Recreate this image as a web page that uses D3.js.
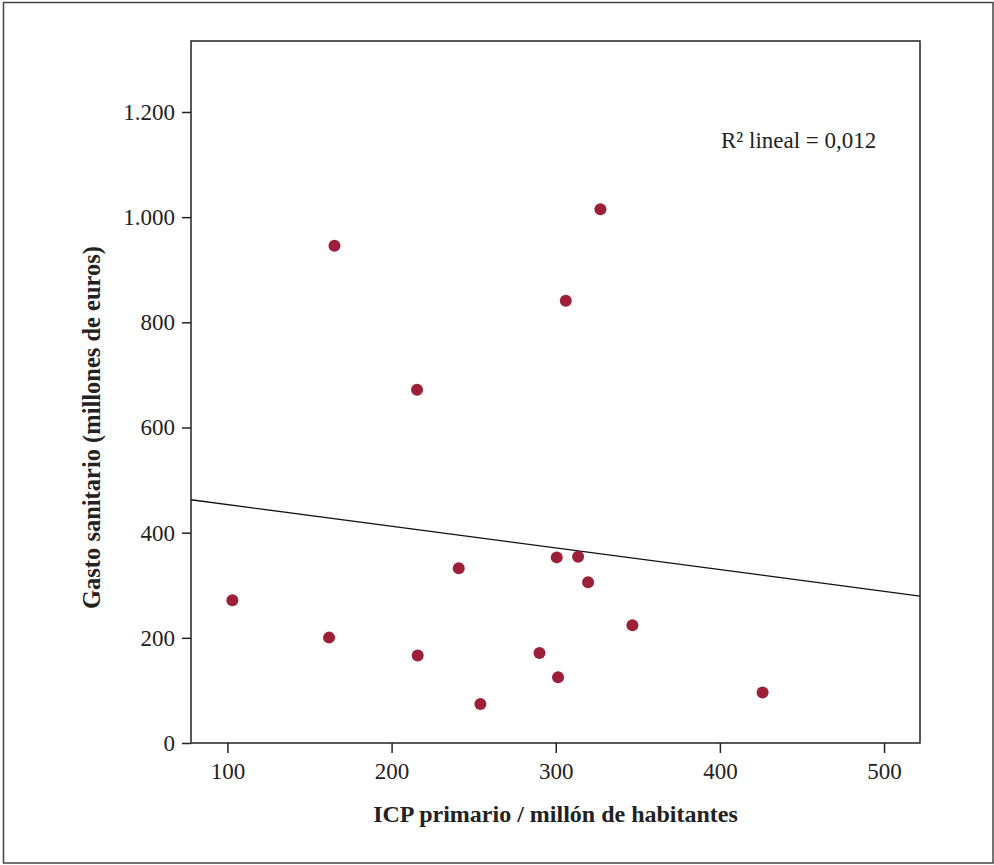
<!DOCTYPE html>
<html>
<head>
<meta charset="utf-8">
<script src="https://cdn.jsdelivr.net/npm/d3@7"></script>
<style>
  body { margin: 0; background: #fff; }
  svg { display: block; font-family: "Liberation Serif", "Times New Roman", serif; }
</style>
</head>
<body>
<div class="scatter-container"></div>
<script>
// ICP primario por millón de habitantes (eje x)
var icpValues = [103.0, 161.9, 165.2, 215.5, 215.9, 240.9, 254.1, 290.1,
                 300.6, 301.4, 306.1, 313.6, 319.7, 327.2, 346.7, 426.0];
// gasto sanitario, millones de euros (eje y)
var gastoValues = [271.3, 200.4, 945.6, 671.9, 166.2, 332.1, 74.1, 171.1,
                   353.0, 124.9, 841.0, 354.4, 305.5, 1015.2, 223.8, 96.1];
var xTicks = [100, 200, 300, 400, 500];
var yTicks = [0, 200, 400, 600, 800, 1000, 1200];
var xDomain = [77.8, 521.9];
var yDomain = [0, 1335];

var width = 994, height = 865;
var margin = {top: 41, right: 74, bottom: 122, left: 191};
var textColor = "#222";
var dotColor = "#9d1f38";

var svg = d3.select(".scatter-container").append("svg")
    .attr("width", width)
    .attr("height", height);

// marco exterior
svg.append("rect")
    .attr("x", 3.5).attr("y", 2.5)
    .attr("width", 989.5).attr("height", 860.5)
    .attr("fill", "none")
    .attr("stroke", "#444")
    .attr("stroke-width", 1.5);

var xScale = d3.scaleLinear()
    .domain(xDomain)
    .range([margin.left, width - margin.right]);
var yScale = d3.scaleLinear()
    .domain(yDomain)
    .range([height - margin.bottom, margin.top]);

// separador de miles "."
var es = d3.formatLocale({decimal: ",", thousands: ".", grouping: [3], currency: ["", " €"]});
var fmt = es.format(",d");

var xAxis = d3.axisBottom(xScale).tickValues(xTicks).tickSize(10).tickSizeOuter(0).tickPadding(6).tickFormat(fmt);
var yAxis = d3.axisLeft(yScale).tickValues(yTicks).tickSize(9).tickSizeOuter(0).tickPadding(7).tickFormat(fmt);

var gx = svg.append("g")
    .attr("class", "x-axis")
    .attr("transform", "translate(0," + (height - margin.bottom) + ")")
    .call(xAxis);
var gy = svg.append("g")
    .attr("class", "y-axis")
    .attr("transform", "translate(" + margin.left + ",0)")
    .call(yAxis);

[gx, gy].forEach(function(g){
    g.select(".domain").remove();
    g.selectAll("line").attr("stroke", textColor).attr("stroke-width", 1.5);
    g.selectAll("text")
        .attr("fill", textColor)
        .attr("font-size", 23)
        .attr("font-family", "Liberation Serif");
});
gx.selectAll("text").attr("dy", "0.85em");

// recta de regresión (mínimos cuadrados)
var mx = d3.mean(icpValues), my = d3.mean(gastoValues);
var sxy = d3.sum(icpValues, function(d, i){ return (d - mx) * (gastoValues[i] - my); });
var sxx = d3.sum(icpValues, function(d){ return (d - mx) * (d - mx); });
var slope = sxy / sxx;
var intercept = my - slope * mx;

svg.append("line")
    .attr("x1", xScale(xDomain[0]))
    .attr("y1", yScale(intercept + slope * xDomain[0]))
    .attr("x2", xScale(xDomain[1]))
    .attr("y2", yScale(intercept + slope * xDomain[1]))
    .attr("stroke", "#111")
    .attr("stroke-width", 1.3);

// puntos
svg.selectAll("circle")
    .data(icpValues)
    .enter()
    .append("circle")
    .attr("cx", function(d){ return xScale(d); })
    .attr("cy", function(d, i){ return yScale(gastoValues[i]); })
    .attr("r", 6)
    .attr("fill", dotColor);

// marco del gráfico
svg.append("rect")
    .attr("x", margin.left).attr("y", margin.top)
    .attr("width", width - margin.left - margin.right)
    .attr("height", height - margin.top - margin.bottom)
    .attr("fill", "none")
    .attr("stroke", textColor)
    .attr("stroke-width", 1.5);

svg.append("text")
    .attr("x", 721)
    .attr("y", 148)
    .attr("font-size", 23)
    .attr("fill", textColor)
    .text("R\u00b2 lineal = 0,012");

// títulos de ejes
svg.append("text")
    .attr("x", (margin.left + width - margin.right) / 2)
    .attr("y", 822)
    .attr("text-anchor", "middle")
    .attr("font-size", 24)
    .attr("font-weight", "bold")
    .attr("fill", textColor)
    .text("ICP primario / millón de habitantes");

svg.append("text")
    .attr("transform", "translate(100," + ((yScale(0) + yScale(1200)) / 2) + ") rotate(-90)")
    .attr("text-anchor", "middle")
    .attr("font-size", 24.5)
    .attr("font-weight", "bold")
    .attr("fill", textColor)
    .text("Gasto sanitario (millones de euros)");
</script>
</body>
</html>
